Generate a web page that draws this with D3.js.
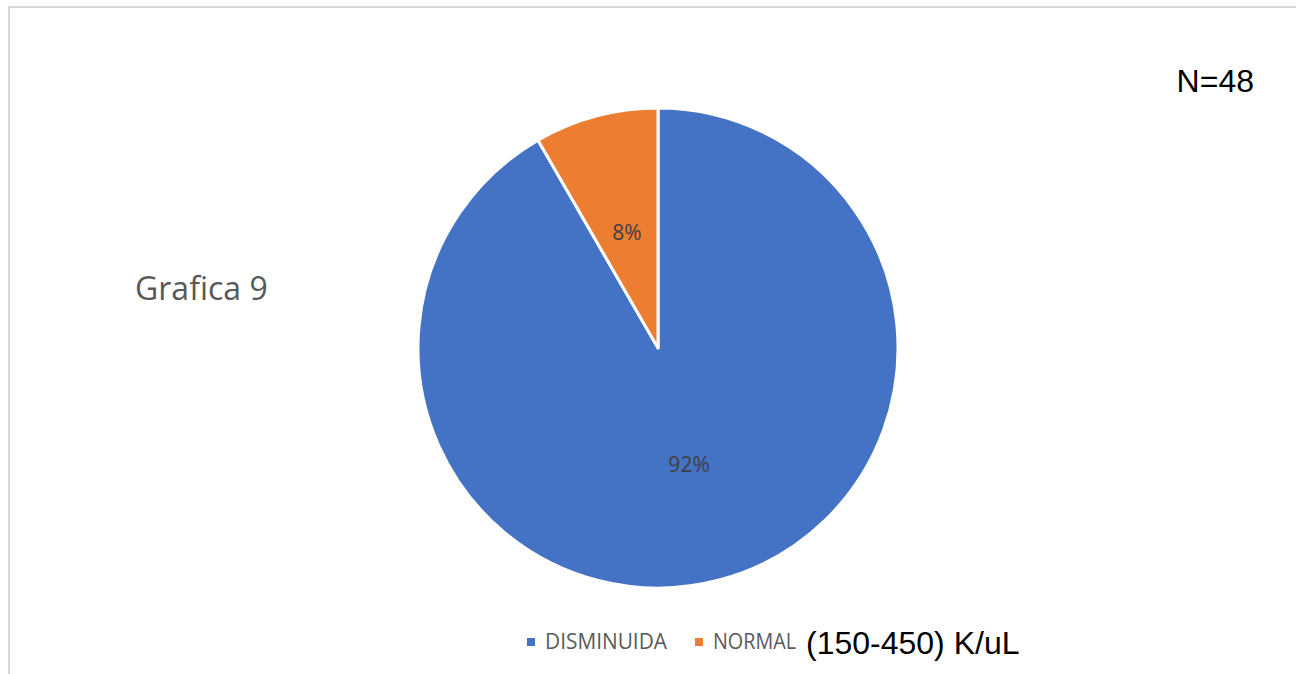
<!DOCTYPE html>
<html>
<head>
<meta charset="utf-8">
<script src="https://cdn.jsdelivr.net/npm/d3@7"></script>
<style>
  html, body { margin: 0; padding: 0; background: #fff; }
  svg { display: block; }
</style>
</head>
<body>
<svg id="chart" width="1296" height="674"></svg>
<script>
// Platelet count categories (N=48)
const categories = ["DISMINUIDA", "NORMAL"];
const counts = [44, 4];
const labels = ["92%", "8%"];
const colors = ["#4472c4", "#ed7d31"];

const W = 1296, H = 674;
const svg = d3.select("#chart");

// Chart frame
svg.append("rect")
  .attr("x", 9).attr("y", 7)
  .attr("width", W + 10).attr("height", H + 10)
  .attr("fill", "#fff")
  .attr("stroke", "#d9d9d9").attr("stroke-width", 2);

const cx = 658, cy = 348, R = 240;

const pie = d3.pie().sort(null).value(d => d.value);
const arcs = pie(categories.map((c, i) => ({ name: c, value: counts[i], label: labels[i], color: colors[i] })));

const arc = d3.arc().innerRadius(0).outerRadius(R);
const labelArc = d3.arc().innerRadius(R * 0.5).outerRadius(R * 0.5);

const g = svg.append("g").attr("transform", `translate(${cx},${cy})`);

g.selectAll("path.slice")
  .data(arcs)
  .join("path")
  .attr("class", "slice")
  .attr("d", arc)
  .attr("fill", d => d.data.color)
  .attr("stroke", "#fff")
  .attr("stroke-width", 3)
  .attr("stroke-linejoin", "round");

g.selectAll("text.pct")
  .data(arcs)
  .join("text")
  .attr("class", "pct")
  .attr("transform", d => `translate(${labelArc.centroid(d)})`)
  .attr("text-anchor", "middle")
  .attr("dominant-baseline", "central")
  .attr("font-family", "'Open Sans', 'Noto Sans', sans-serif")
  .attr("font-size", 21)
  .attr("fill", "#404040")
  .text(d => d.data.label);

// Side titles
svg.append("text")
  .attr("x", 135).attr("y", 300)
  .attr("font-family", "'Open Sans', 'Noto Sans', sans-serif")
  .attr("font-size", 32)
  .attr("fill", "#595959")
  .text("Grafica 9");

svg.append("text")
  .attr("x", 1254).attr("y", 92)
  .attr("text-anchor", "end")
  .attr("font-family", "'Liberation Sans', Arial, sans-serif")
  .attr("font-size", 32)
  .attr("fill", "#000")
  .text("N=48");

// Legend
const legendX = [527, 695];
const legendW = [122, 83];
const legend = svg.append("g");
categories.forEach((c, i) => {
  legend.append("rect")
    .attr("x", legendX[i]).attr("y", 638)
    .attr("width", 8).attr("height", 8)
    .attr("fill", colors[i]);
  legend.append("text")
    .attr("x", legendX[i] + 18).attr("y", 649)
    .attr("font-family", "'Open Sans', 'Noto Sans', sans-serif")
    .attr("font-size", 22)
    .attr("fill", "#595959")
    .attr("textLength", legendW[i])
    .attr("lengthAdjust", "spacingAndGlyphs")
    .text(c);
});

svg.append("text")
  .attr("x", 806).attr("y", 654)
  .attr("font-family", "'Liberation Sans', Arial, sans-serif")
  .attr("font-size", 32)
  .attr("fill", "#000")
  .text("(150-450) K/uL");
</script>
</body>
</html>
